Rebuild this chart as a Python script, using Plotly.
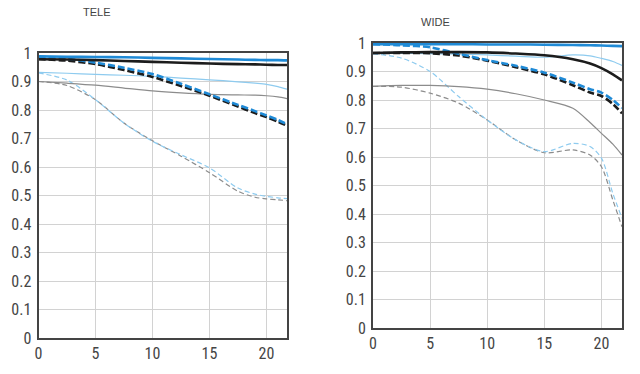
import plotly.graph_objects as go

# Field position (mm)
field_x = [0, 2.5, 5, 7.5, 10, 12.5, 15, 17.5, 19, 20, 21, 21.8]
x_ticks = [0, 5, 10, 15, 20]
y_ticks = [0, 0.1, 0.2, 0.3, 0.4, 0.5, 0.6, 0.7, 0.8, 0.9, 1]
y_tick_labels = ["0", "0.1", "0.2", "0.3", "0.4", "0.5", "0.6", "0.7", "0.8", "0.9", "1"]

# TELE
tele_s10 = [0.988, 0.987, 0.986, 0.985, 0.983, 0.981, 0.979, 0.977, 0.976, 0.975, 0.975, 0.974]
tele_m10 = [0.978, 0.977, 0.975, 0.972, 0.969, 0.966, 0.963, 0.961, 0.960, 0.959, 0.958, 0.958]
tele_s10_open = [0.987, 0.980, 0.966, 0.948, 0.926, 0.892, 0.855, 0.818, 0.796, 0.781, 0.765, 0.750]
tele_m10_open = [0.979, 0.973, 0.961, 0.940, 0.916, 0.884, 0.850, 0.812, 0.789, 0.775, 0.759, 0.745]
tele_s30 = [0.932, 0.929, 0.925, 0.922, 0.918, 0.912, 0.906, 0.899, 0.894, 0.890, 0.882, 0.873]
tele_m30 = [0.900, 0.894, 0.887, 0.877, 0.867, 0.860, 0.855, 0.853, 0.852, 0.850, 0.846, 0.840]
tele_s30_open = [0.930, 0.905, 0.836, 0.754, 0.690, 0.643, 0.597, 0.526, 0.505, 0.497, 0.492, 0.489]
tele_m30_open = [0.900, 0.886, 0.836, 0.754, 0.692, 0.638, 0.580, 0.515, 0.494, 0.488, 0.485, 0.482]

# WIDE
wide_s10 = [0.996, 0.996, 0.996, 0.996, 0.995, 0.995, 0.994, 0.993, 0.992, 0.991, 0.990, 0.989]
wide_m10 = [0.965, 0.967, 0.968, 0.968, 0.967, 0.963, 0.957, 0.943, 0.928, 0.912, 0.890, 0.869]
wide_s10_open = [0.996, 0.992, 0.985, 0.962, 0.940, 0.920, 0.896, 0.861, 0.838, 0.826, 0.800, 0.772]
wide_m10_open = [0.965, 0.965, 0.964, 0.956, 0.938, 0.915, 0.890, 0.852, 0.826, 0.814, 0.786, 0.753]
wide_s30 = [0.965, 0.964, 0.963, 0.961, 0.958, 0.954, 0.950, 0.958, 0.955, 0.946, 0.935, 0.921]
wide_m30 = [0.848, 0.851, 0.851, 0.847, 0.838, 0.822, 0.800, 0.771, 0.721, 0.683, 0.645, 0.607]
wide_s30_open = [0.962, 0.947, 0.900, 0.812, 0.730, 0.660, 0.619, 0.648, 0.637, 0.596, 0.472, 0.385]
wide_m30_open = [0.848, 0.845, 0.824, 0.789, 0.730, 0.660, 0.615, 0.625, 0.607, 0.566, 0.449, 0.355]

BLUE = "#1f8ad6"
LBLUE = "#8ecbef"
GRAY = "#8c8c8c"
BLACK = "#1c1c1c"

styles = [
    ("m30_open", GRAY, 1.2, "5px,3px"),
    ("s30_open", LBLUE, 1.2, "5px,3px"),
    ("m30", GRAY, 1.2, "solid"),
    ("s30", LBLUE, 1.2, "solid"),
    ("m10_open", BLACK, 2.6, "7px,3px"),
    ("s10_open", BLUE, 2.6, "7px,3px"),
    ("m10", BLACK, 2.6, "solid"),
    ("s10", BLUE, 2.6, "solid"),
]

tele = {"s10": tele_s10, "m10": tele_m10, "s10_open": tele_s10_open, "m10_open": tele_m10_open,
        "s30": tele_s30, "m30": tele_m30, "s30_open": tele_s30_open, "m30_open": tele_m30_open}
wide = {"s10": wide_s10, "m10": wide_m10, "s10_open": wide_s10_open, "m10_open": wide_m10_open,
        "s30": wide_s30, "m30": wide_m30, "s30_open": wide_s30_open, "m30_open": wide_m30_open}

fig = go.Figure()
for data, xa, ya in [(tele, "x", "y"), (wide, "x2", "y2")]:
    for key, col, w, dash in styles:
        fig.add_trace(go.Scatter(
            x=field_x, y=data[key], mode="lines", xaxis=xa, yaxis=ya,
            line=dict(color=col, width=w, dash=dash, shape="spline", smoothing=0.8),
            showlegend=False, hoverinfo="skip"))

W, H = 640, 374
FONT = "Liberation Sans Narrow, Arial Narrow, Roboto Condensed, sans-serif"
tickfont = dict(family=FONT, size=16, color="#454545")


def px_x(v):
    return v / W


def px_y(v):
    return (H - v) / H


def xaxis(dom, anchor):
    return dict(domain=dom, anchor=anchor, range=[0, 21.8], tickvals=x_ticks,
                showgrid=True, gridcolor="#d2d2d2", gridwidth=1, zeroline=False,
                showline=True, linecolor="#444444", linewidth=2, mirror=True,
                ticks="", tickfont=tickfont, automargin=False, fixedrange=True)


def yaxis(dom, anchor):
    return dict(domain=dom, anchor=anchor, range=[0, 1], tickvals=y_ticks, ticktext=y_tick_labels,
                showgrid=True, gridcolor="#d2d2d2", gridwidth=1, zeroline=False,
                showline=True, linecolor="#444444", linewidth=2, mirror=True,
                ticks="", tickfont=tickfont, automargin=False, fixedrange=True,
                ticklabelstandoff=2)


title_font = dict(family="Liberation Sans, Arial, sans-serif", size=11, color="#444444")

fig.update_layout(
    width=W, height=H,
    margin=dict(l=0, r=0, t=0, b=0),
    paper_bgcolor="white", plot_bgcolor="white",
    xaxis=xaxis([px_x(38.5), px_x(287)], "y"),
    yaxis=yaxis([px_y(338), px_y(53)], "x"),
    xaxis2=xaxis([px_x(373), px_x(622)], "y2"),
    yaxis2=yaxis([px_y(328), px_y(43)], "x2"),
    annotations=[
        dict(text="TELE", x=px_x(97), y=px_y(11.5), xref="paper", yref="paper",
             showarrow=False, xanchor="center", yanchor="middle", font=title_font),
        dict(text="WIDE", x=px_x(435), y=px_y(22), xref="paper", yref="paper",
             showarrow=False, xanchor="center", yanchor="middle", font=title_font),
    ],
)

# Remove the browser's default body margin so the 640x374 figure fills the window exactly.
fig.write_html("out.html",
               config={"displayModeBar": False, "staticPlot": True},
               post_script="document.body.style.margin='0';document.body.style.overflow='hidden';")
